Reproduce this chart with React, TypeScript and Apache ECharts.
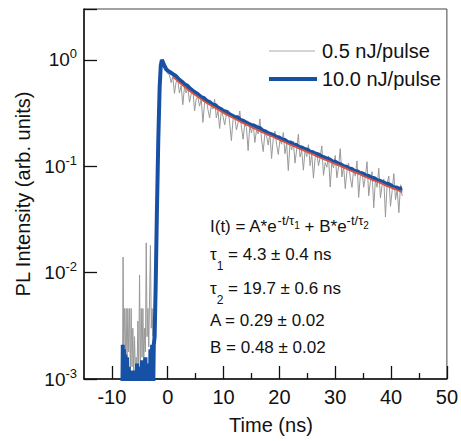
import React, { useEffect, useRef } from 'react';
import * as echarts from 'echarts';

const FONT = "'Liberation Sans', Arial, Helvetica, sans-serif";

const SERIES_NAMES = ['0.5 nJ/pulse', '10.0 nJ/pulse'];
const X_NAME = 'Time (ns)';
const Y_NAME = 'PL Intensity (arb. units)';
const X_MAJOR_TICKS = [-10, 0, 10, 20, 30, 40, 50];
const X_MINOR_TICKS = [-5, 5, 15, 25, 35, 45];

// 0.5 nJ/pulse trace: early part as [t, value] pairs
const grayEarly: [number, number][] = [
  [-8.1, 0.0012], [-8.0, 0.014], [-7.9, 0.002], [-7.75, 0.0046], [-7.6, 0.0015],
  [-7.45, 0.0046], [-7.3, 0.0012], [-7.15, 0.0046], [-7.0, 0.0018], [-6.85, 0.0046],
  [-6.7, 0.0011], [-6.55, 0.0046], [-6.4, 0.0013], [-6.25, 0.003], [-6.1, 0.0011],
  [-5.95, 0.0025], [-5.8, 0.0012], [-5.65, 0.0016], [-5.5, 0.0011], [-5.35, 0.0035],
  [-5.2, 0.0013], [-5.05, 0.0095], [-4.9, 0.0012], [-4.75, 0.0046], [-4.6, 0.0016],
  [-4.45, 0.0046], [-4.3, 0.0013], [-4.15, 0.003], [-4.0, 0.0018], [-3.85, 0.019],
  [-3.7, 0.0025], [-3.55, 0.0046], [-3.4, 0.002], [-3.25, 0.006], [-3.1, 0.018],
  [-2.95, 0.003], [-2.8, 0.0046], [-2.65, 0.0025], [-2.5, 0.004], [-2.3, 0.004],
  [-2.0, 0.03], [-1.7, 0.18], [-1.4, 0.6], [-1.1, 0.95], [-0.8, 0.97],
  [-0.5, 0.85], [-0.2, 0.78], [0.0, 0.74],
];
// 0.5 nJ/pulse trace: decay, sampled every 0.3 ns from 0.3 ns
const GRAY_DECAY_START = 0.3;
const GRAY_DECAY_STEP = 0.3;
const grayDecay = [
  0.728, 0.61, 0.694, 0.483, 0.617, 0.642, 0.487, 0.573, 0.378, 0.557,
  0.487, 0.551, 0.399, 0.477, 0.532, 0.33, 0.427, 0.444, 0.367, 0.426,
  0.258, 0.394, 0.429, 0.341, 0.284, 0.37, 0.344, 0.426, 0.285, 0.333,
  0.226, 0.336, 0.294, 0.244, 0.307, 0.337, 0.254, 0.174, 0.275, 0.29,
  0.219, 0.256, 0.33, 0.233, 0.179, 0.25, 0.231, 0.14, 0.242, 0.205,
  0.252, 0.167, 0.218, 0.201, 0.278, 0.179, 0.137, 0.204, 0.192, 0.158,
  0.204, 0.118, 0.182, 0.213, 0.16, 0.129, 0.176, 0.161, 0.207, 0.131,
  0.162, 0.091, 0.166, 0.142, 0.171, 0.107, 0.144, 0.2, 0.122, 0.142,
  0.0917, 0.142, 0.123, 0.159, 0.101, 0.1305, 0.0772, 0.12, 0.135, 0.101,
  0.121, 0.155, 0.082, 0.108, 0.0977, 0.125, 0.0639, 0.1085, 0.0961, 0.126,
  0.0777, 0.099, 0.146, 0.0792, 0.1004, 0.0614, 0.0898, 0.107, 0.0779, 0.0632,
  0.0933, 0.0806, 0.112, 0.0509, 0.0819, 0.0905, 0.0633, 0.0799, 0.11, 0.0527,
  0.0725, 0.0887, 0.0407, 0.0744, 0.0632, 0.0954, 0.0502, 0.0665, 0.0757, 0.0333,
  0.0689, 0.0808, 0.042, 0.0589, 0.0851, 0.0486, 0.0599, 0.0366, 0.0668, 0.0526,
];

// 10.0 nJ/pulse trace: early part as [t, value] pairs
const blueEarly: [number, number][] = [
  [-8.15, 0.0005], [-8.05, 0.0021], [-7.95, 0.0005], [-7.85, 0.0019], [-7.75, 0.0005],
  [-7.6, 0.0017], [-7.45, 0.0006], [-7.3, 0.0016], [-7.15, 0.0005], [-7.0, 0.0013],
  [-6.85, 0.0005], [-6.7, 0.0011], [-6.55, 0.0007], [-6.4, 0.0012], [-6.25, 0.0005],
  [-6.1, 0.0011], [-5.95, 0.0006], [-5.8, 0.0012], [-5.65, 0.0005], [-5.5, 0.0014],
  [-5.35, 0.0007], [-5.2, 0.0012], [-5.05, 0.0005], [-4.9, 0.0013], [-4.75, 0.0006],
  [-4.6, 0.0015], [-4.45, 0.0005], [-4.3, 0.0013], [-4.15, 0.0007], [-4.0, 0.0016],
  [-3.85, 0.0005], [-3.7, 0.0012], [-3.55, 0.0006], [-3.4, 0.0014], [-3.25, 0.0005],
  [-3.1, 0.0019], [-2.95, 0.0006], [-2.8, 0.0021], [-2.65, 0.0005], [-2.5, 0.0021],
  [-2.35, 0.0025], [-2.15, 0.008], [-1.95, 0.035], [-1.7, 0.17], [-1.45, 0.55],
  [-1.25, 0.88], [-1.05, 1.0], [-0.8, 0.93], [-0.5, 0.86], [-0.25, 0.81],
];
// 10.0 nJ/pulse trace: decay, sampled every 0.5 ns from 0 ns
const BLUE_DECAY_START = 0;
const BLUE_DECAY_STEP = 0.5;
const blueDecay = [
  0.79, 0.76, 0.73, 0.7, 0.655, 0.625, 0.59, 0.57, 0.535, 0.51,
  0.49, 0.47, 0.445, 0.435, 0.41, 0.4, 0.38, 0.375, 0.355, 0.345,
  0.33, 0.325, 0.31, 0.3, 0.29, 0.288, 0.272, 0.268, 0.258, 0.25,
  0.243, 0.24, 0.232, 0.228, 0.216, 0.212, 0.204, 0.2, 0.195, 0.188,
  0.186, 0.178, 0.176, 0.168, 0.167, 0.16, 0.158, 0.152, 0.15, 0.145,
  0.143, 0.137, 0.135, 0.131, 0.129, 0.124, 0.121, 0.118, 0.116, 0.111,
  0.11, 0.106, 0.104, 0.1, 0.099, 0.095, 0.094, 0.09, 0.089, 0.086,
  0.085, 0.082, 0.081, 0.078, 0.077, 0.074, 0.073, 0.071, 0.069, 0.068,
  0.066, 0.063, 0.063, 0.061, 0.062,
];

// Fit curve read at 1 ns steps from 1 ns
const FIT_START = 1;
const FIT_STEP = 1;
const fitValues = [
  0.686, 0.616, 0.557, 0.506, 0.463, 0.426, 0.393, 0.365, 0.34, 0.317,
  0.297, 0.279, 0.262, 0.247, 0.233, 0.22, 0.208, 0.197, 0.187, 0.177,
  0.168, 0.159, 0.151, 0.143, 0.136, 0.129, 0.122, 0.116, 0.111, 0.105,
  0.1, 0.095, 0.09, 0.086, 0.081, 0.077, 0.073, 0.07, 0.066, 0.063,
  0.06, 0.057,
];

const GRAY = '#999999';
const BLUE = '#1651a6';
const RED = '#d9533e';

const sampled = (start: number, step: number, vals: number[]) =>
  vals.map((v, i) => [+(start + i * step).toFixed(3), v]);

export default function App() {
  const ref = useRef<HTMLDivElement>(null);
  useEffect(() => {
    if (!ref.current) return;
    const chart = echarts.init(ref.current, null, { renderer: 'svg' });
    const grayData = [...grayEarly, ...sampled(GRAY_DECAY_START, GRAY_DECAY_STEP, grayDecay)];
    const blueData = [...blueEarly, ...sampled(BLUE_DECAY_START, BLUE_DECAY_STEP, blueDecay)];
    const fitData = sampled(FIT_START, FIT_STEP, fitValues);
    const txt = '#111';
    chart.setOption({
      animation: false,
      backgroundColor: '#fff',
      textStyle: { fontFamily: FONT },
      grid: { left: 84, right: 9, top: 9, bottom: 62, show: true, borderColor: '#444', borderWidth: 1, backgroundColor: 'transparent' },
      xAxis: [
        {
          type: 'value', min: -15, max: 50, position: 'bottom',
          name: X_NAME, nameLocation: 'middle', nameGap: 36,
          nameTextStyle: { fontSize: 20, color: txt, fontFamily: FONT, padding: [0, 0, 0, 11] },
          axisLine: { show: true, onZero: false, lineStyle: { color: '#111', width: 1.5 } },
          axisTick: { show: true, inside: true, length: 13, customValues: X_MAJOR_TICKS, lineStyle: { color: '#111', width: 1.3 } },
          axisLabel: { show: true, customValues: X_MAJOR_TICKS, fontSize: 20, color: txt, margin: 8, fontFamily: FONT },
          splitLine: { show: false },
        },
        {
          type: 'value', min: -15, max: 50, position: 'bottom',
          axisLine: { show: false, onZero: false },
          axisTick: { show: true, inside: true, length: 6, customValues: X_MINOR_TICKS, lineStyle: { color: '#111', width: 1.3 } },
          axisLabel: { show: false },
          splitLine: { show: false },
        },
      ],
      yAxis: {
        type: 'log', logBase: 10, min: 0.001, max: 3, position: 'left',
        name: Y_NAME, nameLocation: 'middle', nameGap: 50, nameRotate: 90,
        nameTextStyle: { fontSize: 20, color: txt, fontFamily: FONT },
        axisLine: { show: true, onZero: false, lineStyle: { color: '#111', width: 1.5 } },
        axisTick: { show: true, inside: true, length: 13, lineStyle: { color: '#111', width: 1.3 } },
        splitLine: { show: false },
        axisLabel: {
          margin: 7,
          color: txt,
          formatter: (v: number) => {
            const l = Math.log10(v);
            const e = Math.round(l);
            if (Math.abs(l - e) > 1e-3) return '';
            return `{b|10}{s|${e}}`;
          },
          rich: {
            b: { fontSize: 19, lineHeight: 25, fontFamily: FONT, color: txt },
            s: { fontSize: 13, lineHeight: 13, verticalAlign: 'top', fontFamily: FONT, color: txt },
          },
        },
      },
      series: [
        {
          name: SERIES_NAMES[0], type: 'line', data: grayData, symbol: 'none', showSymbol: false,
          lineStyle: { color: GRAY, width: 1 }, itemStyle: { color: GRAY }, z: 2,
        },
        {
          name: SERIES_NAMES[1], type: 'line', data: blueData, symbol: 'none', showSymbol: false,
          lineStyle: { color: BLUE, width: 4 }, itemStyle: { color: BLUE }, z: 3,
        },
        {
          name: 'fit', type: 'line', data: fitData, symbol: 'none', showSymbol: false, smooth: true,
          lineStyle: { color: RED, width: 1.8 }, itemStyle: { color: RED }, z: 4,
        },
      ],
      graphic: [
        // legend
        { type: 'line', z: 100, shape: { x1: 269, y1: 51, x2: 315, y2: 51 }, style: { stroke: '#aaaaaa', lineWidth: 1 } },
        { type: 'text', z: 100, x: 322, y: 51, style: { text: SERIES_NAMES[0], fontSize: 20, fontFamily: FONT, fill: txt, verticalAlign: 'middle', align: 'left' } },
        { type: 'line', z: 100, shape: { x1: 269, y1: 79, x2: 317, y2: 79 }, style: { stroke: BLUE, lineWidth: 4 } },
        { type: 'text', z: 100, x: 322, y: 79, style: { text: SERIES_NAMES[1], fontSize: 20, fontFamily: FONT, fill: txt, verticalAlign: 'middle', align: 'left' } },
        // fit annotation
        {
          type: 'text', x: 210, y: 226.7, z: 100,
          style: {
            text: '{m|I(t) = A*e}{p|-t/τ}{q|1}{m| + B*e}{p|-t/τ}{q|2}',
            verticalAlign: 'middle', align: 'left', fill: txt,
            rich: {
              m: { fontSize: 17, lineHeight: 26, fontFamily: FONT, fill: txt },
              p: { fontSize: 13, lineHeight: 13, verticalAlign: 'top', fontFamily: FONT, fill: txt },
              q: { fontSize: 10, lineHeight: 10, verticalAlign: 'top', padding: [7, 0, 0, 0], fontFamily: FONT, fill: txt },
            },
          },
        },
        {
          type: 'text', x: 210, y: 254, z: 100,
          style: {
            text: '{m|τ}{s|1}{m| = 4.3 ± 0.4 ns}', verticalAlign: 'middle', align: 'left', fill: txt,
            rich: {
              m: { fontSize: 17, lineHeight: 36, fontFamily: FONT, fill: txt },
              s: { fontSize: 12, lineHeight: 12, verticalAlign: 'bottom', fontFamily: FONT, fill: txt },
            },
          },
        },
        {
          type: 'text', x: 210, y: 288, z: 100,
          style: {
            text: '{m|τ}{s|2}{m| = 19.7 ± 0.6 ns}', verticalAlign: 'middle', align: 'left', fill: txt,
            rich: {
              m: { fontSize: 17, lineHeight: 36, fontFamily: FONT, fill: txt },
              s: { fontSize: 12, lineHeight: 12, verticalAlign: 'bottom', fontFamily: FONT, fill: txt },
            },
          },
        },
        {
          type: 'text', x: 210, y: 320, z: 100,
          style: { text: 'A = 0.29 ± 0.02', verticalAlign: 'middle', align: 'left', fill: txt, fontSize: 17, fontFamily: FONT },
        },
        {
          type: 'text', x: 210, y: 347, z: 100,
          style: { text: 'B = 0.48 ± 0.02', verticalAlign: 'middle', align: 'left', fill: txt, fontSize: 17, fontFamily: FONT },
        },
      ],
    });
    return () => chart.dispose();
  }, []);
  return <div ref={ref} style={{ position: 'fixed', left: 0, top: 0, width: 461, height: 441 }} />;
}
